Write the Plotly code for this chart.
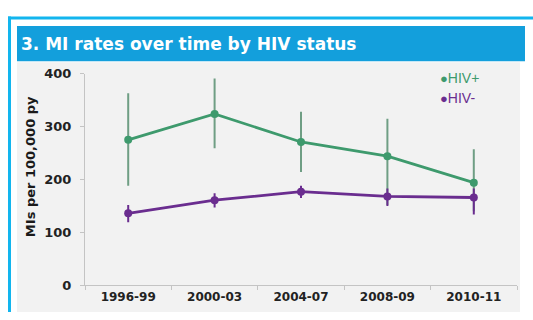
import plotly.graph_objects as go

W, H = 533, 320

periods = ["1996-99", "2000-03", "2004-07", "2008-09", "2010-11"]

hiv_pos = [275, 324, 271, 244, 194]
hiv_pos_hi = [363, 391, 328, 315, 257]
hiv_pos_lo = [188, 259, 214, 152, 140]

hiv_neg = [136, 161, 177, 168, 166]
hiv_neg_hi = [152, 174, 188, 183, 183]
hiv_neg_lo = [119, 147, 165, 150, 134]

y_ticks = [0, 100, 200, 300, 400]

GREEN = "#3e9a6d"
GREEN_ERR = "#6f9e84"
PURPLE = "#6a2d8f"
CYAN = "#12b5ee"
BAND = "#139fdc"
PANEL = "#f2f2f2"
FONT = "DejaVu Sans"


def px(x):
    return x / W


def py(y):
    return 1 - y / H


fig = go.Figure()

for name, vals, hi, lo, col, ecol in [
    ("HIV+", hiv_pos, hiv_pos_hi, hiv_pos_lo, GREEN, GREEN_ERR),
    ("HIV-", hiv_neg, hiv_neg_hi, hiv_neg_lo, PURPLE, PURPLE),
]:
    fig.add_trace(go.Scatter(
        x=periods, y=vals, name=name, mode="lines+markers",
        line=dict(color=col, width=2.8),
        marker=dict(color=col, size=8),
        error_y=dict(type="data", symmetric=False,
                     array=[h - v for h, v in zip(hi, vals)],
                     arrayminus=[v - l for v, l in zip(vals, lo)],
                     color=ecol, thickness=2, width=0),
        showlegend=False,
    ))

shapes = [
    # header band
    dict(type="rect", xref="paper", yref="paper",
         x0=px(17), x1=px(525), y0=py(57), y1=py(20),
         line=dict(width=0), fillcolor=BAND, layer="below"),
    # chart panel
    dict(type="rect", xref="paper", yref="paper",
         x0=px(17), x1=px(520), y0=py(H), y1=py(58),
         line=dict(width=0), fillcolor=PANEL, layer="below"),
    # slide frame: top and left edges
    dict(type="line", xref="paper", yref="paper",
         x0=px(8), x1=px(W), y0=py(11.5), y1=py(11.5),
         line=dict(color=CYAN, width=3), layer="below"),
    dict(type="line", xref="paper", yref="paper",
         x0=px(9.5), x1=px(9.5), y0=py(10), y1=py(H),
         line=dict(color=CYAN, width=3), layer="below"),
]

annotations = [
    dict(text="<b>3. MI rates over time by HIV status</b>", x=px(19), y=py(38.5),
         xref="paper", yref="paper", xanchor="left", yanchor="middle",
         showarrow=False, font=dict(size=17, color="white", family=FONT)),
    dict(text="<b>MIs per 100,000 py</b>", x=px(30), y=py(168), textangle=-90,
         xref="paper", yref="paper", xanchor="center", yanchor="middle",
         showarrow=False, font=dict(size=13, color="#1a1a1a", family=FONT)),
]

for i, (name, col) in enumerate([("HIV+", GREEN), ("HIV-", PURPLE)]):
    annotations.append(dict(
        text=f"<span style='font-size:13px'>●</span>{name}",
        x=px(438), y=py(75 + 20 * i), xref="paper", yref="paper",
        xanchor="left", yanchor="middle", showarrow=False,
        font=dict(size=14, color=col, family="Liberation Sans"),
    ))

fig.update_layout(
    width=W, height=H,
    margin=dict(l=0, r=0, t=0, b=0),
    paper_bgcolor="white",
    plot_bgcolor="rgba(0,0,0,0)",
    shapes=shapes,
    annotations=annotations,
    font=dict(family=FONT, color="#222222"),
    xaxis=dict(
        domain=[px(85), px(517)],
        type="category",
        range=[-0.5, len(periods) - 0.5],
        showline=True, linecolor="#c4c4c4", linewidth=1,
        ticks="outside", tickson="boundaries", ticklen=4, tickcolor="#c4c4c4",
        tickfont=dict(size=12, color="#222222", weight="bold", family=FONT),
        showgrid=False, zeroline=False,
        anchor="y",
    ),
    yaxis=dict(
        domain=[py(292), py(70)],
        range=[0, 400],
        tickvals=y_ticks,
        tickfont=dict(size=13, color="#222222", weight="bold", family=FONT),
        showline=True, linecolor="#c4c4c4", linewidth=1,
        ticks="outside", ticklen=4, tickcolor="#c4c4c4",
        ticklabelstandoff=6,
        showgrid=False, zeroline=False,
    ),
)

fig.write_html("out.html")
